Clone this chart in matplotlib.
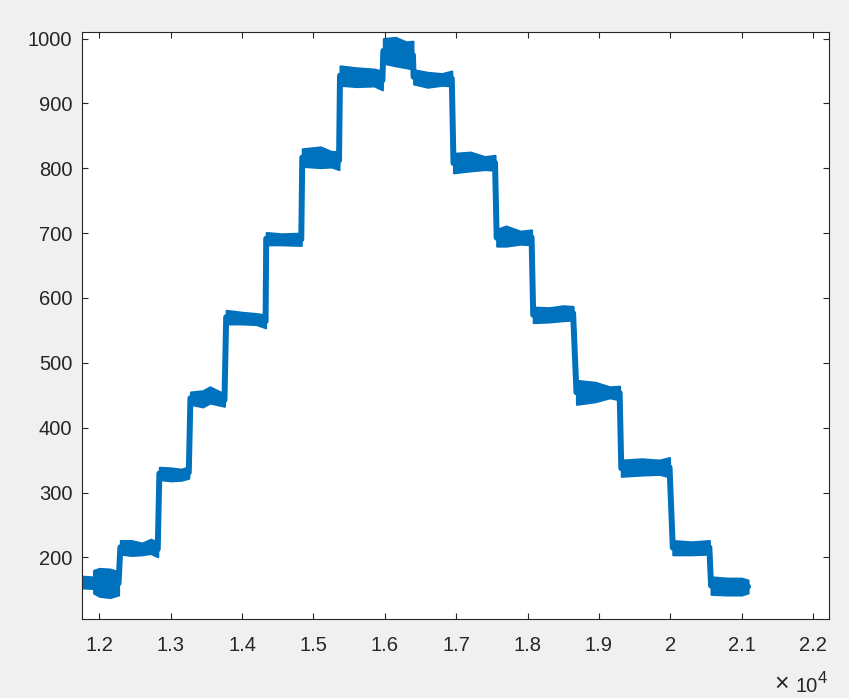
import numpy as np
import matplotlib.pyplot as plt

# noisy staircase: for every plateau a few
# (x, lower edge, upper edge) samples of the blue band
plateaus = [
    [(11760, 153, 171), (11900, 152, 170)],
    [(11920, 145, 180), (12000, 140, 183), (12150, 138, 182), (12270, 142, 178)],
    [(12295, 205, 226), (12450, 203, 226), (12600, 204, 222), (12720, 206, 228), (12819, 201, 224)],
    [(12842, 320, 339), (13000, 318, 338), (13150, 319, 336), (13254, 322, 340)],
    [(13277, 436, 455), (13450, 432, 457), (13550, 438, 463), (13754, 433, 452)],
    [(13778, 560, 581), (14000, 560, 578), (14200, 559, 576), (14330, 554, 574)],
    [(14339, 682, 701), (14550, 682, 699), (14830, 681, 700)],
    [(14844, 803, 830), (15100, 801, 833), (15250, 802, 826), (15359, 798, 826)],
    [(15373, 928, 958), (15600, 926, 955), (15850, 927, 953), (15967, 921, 950)],
    [(15980, 962, 1000), (16150, 958, 1002), (16300, 955, 995), (16395, 953, 996)],
    [(16404, 930, 952), (16600, 925, 948), (16800, 928, 946), (16939, 927, 950)],
    [(16963, 793, 823), (17200, 796, 825), (17400, 798, 818), (17545, 797, 820)],
    [(17568, 680, 706), (17700, 680, 711), (17900, 683, 703), (18057, 682, 705)],
    [(18080, 562, 586), (18300, 563, 585), (18500, 565, 588), (18639, 566, 587)],
    [(18686, 436, 473), (18950, 440, 470), (19150, 446, 463), (19291, 443, 464)],
    [(19314, 325, 350), (19600, 327, 352), (19850, 328, 350), (19990, 324, 354)],
    [(20036, 204, 226), (20300, 204, 224), (20548, 205, 226)],
    [(20572, 143, 170), (20800, 142, 168), (21000, 142, 168), (21090, 145, 165)],
]

xticks = [12000, 13000, 14000, 15000, 16000, 17000, 18000, 19000, 20000, 21000, 22000]
xtick_labels = ['1.2', '1.3', '1.4', '1.5', '1.6', '1.7', '1.8', '1.9', '2', '2.1', '2.2']
yticks = [200, 300, 400, 500, 600, 700, 800, 900, 1000]

blue = '#0072bd'
txt = '#262626'
plt.rcParams['font.family'] = ['Liberation Sans', 'DejaVu Sans']

fig = plt.figure(figsize=(8.49, 6.98), dpi=100, facecolor='#f0f0f0')
ax = fig.add_axes([0.0966, 0.1132, 0.8798, 0.8408])

xs, ys = [], []
for p in plateaus:
    px = np.array([s[0] for s in p], float)
    lo = np.array([s[1] for s in p], float)
    hi = np.array([s[2] for s in p], float)
    ax.fill_between(px, lo, hi, color=blue, lw=1.5, edgecolor=blue)
    xs += list(px)
    ys += list((lo + hi) / 2)
ax.plot(xs, ys, color=blue, lw=4.3, solid_capstyle='round', solid_joinstyle='round')

ax.set_xlim(11758, 22224)
ax.set_ylim(105, 1010)
ax.set_xticks(xticks)
ax.set_xticklabels(xtick_labels)
ax.set_yticks(yticks)
ax.tick_params(direction='in', length=4.5, width=0.8, colors=txt, labelsize=14.5,
               top=True, right=True, labeltop=False, labelright=False)
ax.tick_params(axis='x', pad=12.5)
ax.tick_params(axis='y', pad=7)
for s in ax.spines.values():
    s.set_color(txt)
    s.set_linewidth(0.8)

# MATLAB style exponent label under the right end of the x axis
fig.text(789 / 849, 1 - 691 / 698, '×', ha='right', va='baseline', fontsize=18, color=txt)
fig.text(818 / 849, 1 - 691.5 / 698, '10', ha='right', va='baseline', fontsize=14.5, color=txt)
fig.text(818 / 849, 1 - 683 / 698, '4', ha='left', va='baseline', fontsize=12, color=txt)

fig.savefig('out.png', dpi=100, facecolor=fig.get_facecolor())
